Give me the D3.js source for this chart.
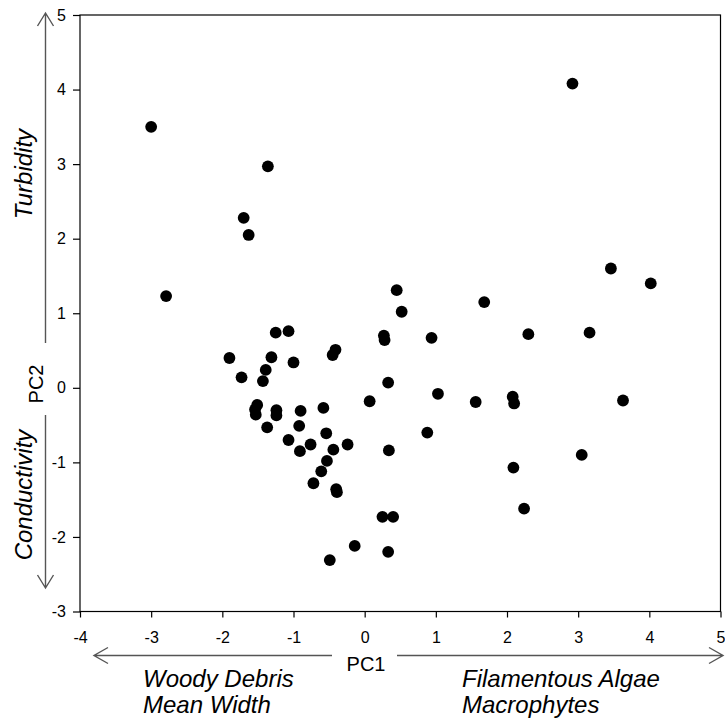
<!DOCTYPE html>
<html lang="en">
<head>
  <meta charset="UTF-8">
  <title>PCA scores</title>
  <script src="https://d3js.org/d3.v7.min.js"></script>
  <style>
    body { margin: 0; background: #fff; font-family: "Liberation Sans", Arial, sans-serif; }
    .tick text { font-size: 16px; font-family: "Liberation Sans", Arial, sans-serif; fill: #000; }
    .lab { font-style: italic; font-size: 24px; fill: #000; }
    .pc { font-size: 20px; fill: #000; }
    .arrow { stroke: #555; stroke-width: 1.4; fill: none; }
  </style>
</head>
<body>
  <svg width="725" height="724"></svg>

  <script>
    // PC scores
    const pc1 = [-3.00, -1.36, -1.70, -1.63, -2.79, 2.92, 3.46, 4.02, 1.68, 2.30,
                 3.16, 1.56, 2.08, 2.10, 3.63, 3.05, 2.09, 2.24, 0.45, 0.52,
                 0.27, 0.28, 0.94, -0.41, -0.45, 0.33, 0.07, 1.03, 0.88, 0.34,
                 -0.24, -0.44, -0.40, -0.39, 0.25, 0.40, -0.14, 0.33, -0.49, -1.25,
                 -1.07, -1.90, -1.31, -1.00, -1.39, -1.73, -1.43, -1.51, -1.54, -1.53,
                 -1.24, -1.24, -0.90, -0.58, -1.37, -0.92, -0.54, -1.07, -0.76, -0.91,
                 -0.53, -0.61, -0.72];
    const pc2 = [3.50, 2.97, 2.28, 2.05, 1.23, 4.08, 1.60, 1.40, 1.15, 0.72,
                 0.74, -0.19, -0.12, -0.21, -0.17, -0.90, -1.07, -1.62, 1.31, 1.02,
                 0.70, 0.64, 0.67, 0.51, 0.44, 0.07, -0.18, -0.08, -0.60, -0.84,
                 -0.76, -0.83, -1.36, -1.40, -1.73, -1.73, -2.12, -2.20, -2.31, 0.74,
                 0.76, 0.40, 0.41, 0.34, 0.24, 0.14, 0.09, -0.23, -0.29, -0.36,
                 -0.30, -0.37, -0.31, -0.27, -0.53, -0.51, -0.61, -0.70, -0.76, -0.85,
                 -0.98, -1.12, -1.28];
    const xTicks = [-4, -3, -2, -1, 0, 1, 2, 3, 4, 5];
    const yTicks = [-3, -2, -1, 0, 1, 2, 3, 4, 5];

    const svg = d3.select("svg");
    const mLeft = 80, mRight = 720.5, mTop = 15, mBottom = 611.5;

    const x = d3.scaleLinear().domain([-4, 5]).range([mLeft, mRight]);
    const y = d3.scaleLinear().domain([-3, 5]).range([mBottom, mTop]);

    // frame
    svg.append("rect")
      .attr("x", mLeft).attr("y", mTop)
      .attr("width", mRight - mLeft).attr("height", mBottom - mTop)
      .attr("fill", "none").attr("stroke", "#000").attr("stroke-width", 1.2);

    svg.append("g")
      .attr("transform", `translate(0,${mBottom})`)
      .call(d3.axisBottom(x).tickValues(xTicks).tickSize(6).tickPadding(14).tickFormat(d => String(d)))
      .call(g => g.select(".domain").remove())
      .call(g => g.selectAll("line").attr("stroke", "#000").attr("stroke-width", 1.2));

    svg.append("g")
      .attr("transform", `translate(${mLeft},0)`)
      .call(d3.axisLeft(y).tickValues(yTicks).tickSize(7).tickPadding(7).tickFormat(d => String(d)))
      .call(g => g.select(".domain").remove())
      .call(g => g.selectAll("line").attr("stroke", "#000").attr("stroke-width", 1.2));

    // points
    svg.append("g")
      .selectAll("circle")
      .data(pc1.map((v, i) => [v, pc2[i]]))
      .join("circle")
      .attr("cx", d => x(d[0]))
      .attr("cy", d => y(d[1]))
      .attr("r", 5.9)
      .attr("fill", "#000");

    // vertical arrow (PC2)
    const ax = 45.5;
    svg.append("path").attr("class", "arrow")
      .attr("d", `M${ax},343V13M${ax - 8},26L${ax},13L${ax + 8},26`);
    svg.append("path").attr("class", "arrow")
      .attr("d", `M${ax},415V588M${ax - 8},575L${ax},588L${ax + 8},575`);

    svg.append("text").attr("class", "lab")
      .attr("transform", "translate(32,174) rotate(-90)")
      .attr("text-anchor", "middle").text("Turbidity");
    svg.append("text").attr("class", "lab")
      .attr("transform", "translate(32,495) rotate(-90)")
      .attr("text-anchor", "middle").text("Conductivity");
    svg.append("text").attr("class", "pc")
      .attr("transform", "translate(43,384) rotate(-90)")
      .attr("text-anchor", "middle").text("PC2");

    // horizontal arrow (PC1)
    const ay = 655.5;
    svg.append("path").attr("class", "arrow")
      .attr("d", `M332,${ay}H94M108,${ay - 8}L94,${ay}L108,${ay + 8}`);
    svg.append("path").attr("class", "arrow")
      .attr("d", `M397,${ay}H723M709,${ay - 8}L723,${ay}L709,${ay + 8}`);

    svg.append("text").attr("class", "pc")
      .attr("x", 366).attr("y", 671)
      .attr("text-anchor", "middle").text("PC1");

    svg.append("text").attr("class", "lab").attr("x", 143).attr("y", 687).text("Woody Debris");
    svg.append("text").attr("class", "lab").attr("x", 143).attr("y", 713).text("Mean Width");
    svg.append("text").attr("class", "lab").attr("x", 462).attr("y", 687).text("Filamentous Algae");
    svg.append("text").attr("class", "lab").attr("x", 462).attr("y", 713).text("Macrophytes");
  </script>
</body>
</html>
